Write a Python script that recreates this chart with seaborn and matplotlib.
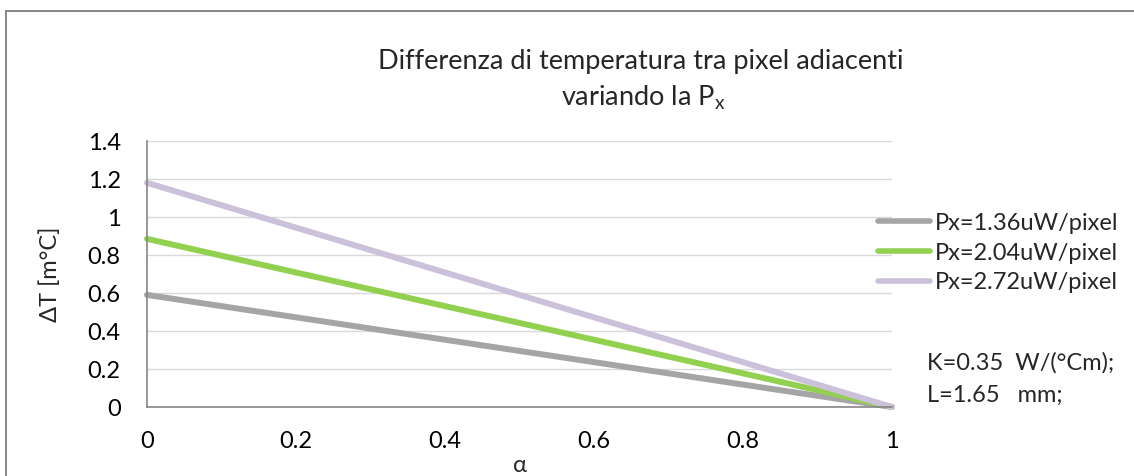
import matplotlib
matplotlib.use("Agg")
import matplotlib.pyplot as plt
import seaborn as sns
import pandas as pd
from matplotlib.patches import Rectangle

alpha = [0.0, 1.0]
px_136 = [0.59, 0.0]
px_204 = [0.885, 0.0]
px_272 = [1.18, 0.0]
series_labels = ["Px=1.36uW/pixel", "Px=2.04uW/pixel", "Px=2.72uW/pixel"]
colors = ["#A5A5A5", "#92D050", "#CCC1DA"]
x_ticks = [0, 0.2, 0.4, 0.6, 0.8, 1]
x_tick_labels = ["0", "0.2", "0.4", "0.6", "0.8", "1"]
y_ticks = [0, 0.2, 0.4, 0.6, 0.8, 1.0, 1.2, 1.4]
y_tick_labels = ["0", "0.2", "0.4", "0.6", "0.8", "1", "1.2", "1.4"]

rows = []
for lab, vals in zip(series_labels, [px_136, px_204, px_272]):
    for a, v in zip(alpha, vals):
        rows.append({"alpha": a, "dT": v, "serie": lab})
df = pd.DataFrame(rows)

sns.set_theme(style="white")
plt.rcParams['font.family'] = ['Lato', 'DejaVu Sans']

W, H = 1134, 476
fig = plt.figure(figsize=(W / 100, H / 100), dpi=100)
ax = fig.add_axes([147 / W, 1 - 407 / H, (892 - 147) / W, (407 - 141) / H])

sns.lineplot(data=df, x="alpha", y="dT", hue="serie", palette=colors,
             hue_order=series_labels, linewidth=4.3, ax=ax, legend=True,
             solid_capstyle="round")

ax.set_xlim(0, 1)
ax.set_ylim(0, 1.4)
ax.set_xticks(x_ticks)
ax.set_xticklabels(x_tick_labels)
ax.set_yticks(y_ticks)
ax.set_yticklabels(y_tick_labels)
ax.tick_params(axis='both', labelsize=17, length=0, colors="#000000")
ax.tick_params(axis='x', pad=17)
ax.tick_params(axis='y', pad=19)
ax.grid(axis='y', color="#D9D9D9", linewidth=1.0)
ax.set_axisbelow(True)
for s in ["top", "right"]:
    ax.spines[s].set_visible(False)
for s in ["left", "bottom"]:
    ax.spines[s].set_color("#868686")
    ax.spines[s].set_linewidth(1.2)
ax.set_xlabel("α", fontsize=17)
ax.set_ylabel("ΔT [m°C]", fontsize=17)
ax.xaxis.set_label_coords(0.5, -(465 - 407) / (407 - 141))
ax.xaxis.label.set_va("center")
ax.yaxis.set_label_coords(-(147 - 50) / (892 - 147), 0.5)
ax.yaxis.label.set_va("center")
for ln in ax.lines:
    ln.set_clip_on(False)

leg = ax.legend(loc="center left", bbox_to_anchor=(878 / W, 1 - 253 / H),
                bbox_transform=fig.transFigure, frameon=False,
                fontsize=17, handlelength=2.2, handletextpad=0.2,
                labelspacing=0.38, borderaxespad=0, borderpad=0)
for h in leg.get_lines():
    h.set_linewidth(4.0)
    h.set_solid_capstyle("round")

fig.text(641 / W, 1 - 62 / H, "Differenza di temperatura tra pixel adiacenti",
         ha="center", va="center", fontsize=19.5)
fig.text(643 / W, 1 - 98 / H, "variando la P$_\\mathregular{x}$",
         ha="center", va="center", fontsize=19.5)

fig.text(927 / W, 1 - 363 / H, "K=0.35  W/(°Cm);", ha="left", va="center", fontsize=17)
fig.text(927 / W, 1 - 395 / H, "L=1.65   mm;", ha="left", va="center", fontsize=17)

fig.patches.append(Rectangle((6 / W, -0.01), 1.02, 1 - 11 / H + 0.01,
                             transform=fig.transFigure, fill=False,
                             edgecolor="#868686", linewidth=1.4))

fig.savefig("out.png", dpi=100)
